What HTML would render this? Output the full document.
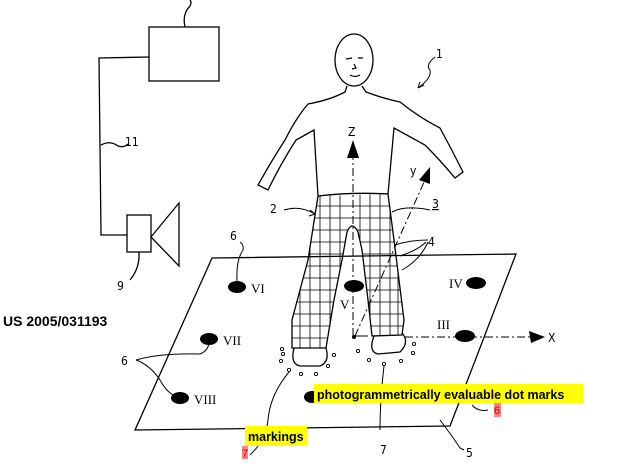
<!DOCTYPE html>
<html><head><meta charset="utf-8"><style>
html,body{margin:0;padding:0;background:#fff;}
svg{display:block;}
</style></head><body>
<svg width="625" height="464" viewBox="0 0 625 464" xmlns="http://www.w3.org/2000/svg" font-family="Liberation Sans, sans-serif">
<defs>
<clipPath id="pc"><path d="M318,196 L388,194 L394,240 L404,320 L402,335 L372,336 L368,300 L362,250 L358,232 Q352,220 347,232 L342,260 L334,300 L326,348 L292,348 L292,320 L308,260 Z"/></clipPath>
</defs>
<g fill="none" stroke="#000" stroke-width="1.3">
<rect x="149" y="27" width="70" height="54"/>
<path d="M185,27 Q182,14 190,6 Q192,2 190,0"/>
<path d="M149,57 L99,58 L101,235 L127,235"/>
<path d="M101,145 Q110,140 118,146 Q124,148 128,144"/>
<rect x="127" y="215" width="24" height="37"/>
<path d="M151,237 L179,203 L179,266 Z"/>
<path d="M139,252 Q140,268 130,280"/>
<path d="M212,258 L516,254 L450,426 L135,430 Z"/>
<ellipse cx="354" cy="60" rx="19" ry="26"/>
<path d="M346,59 L352,58 M358,58 L363,58 M354,64 L356,68 L352,69 M350,75 Q355,78 360,75" stroke-width="1.2"/>
<path d="M347,86 L345,92 Q330,100 308,104 Q296,118 285,140 Q272,160 258,185 L268,190 Q280,165 296,140 L314,130 L318,196"/>
<path d="M362,86 L366,92 Q385,99 400,102 Q420,118 440,128 Q452,150 463,172 L455,178 Q440,160 425,145 L394,128 L388,194"/>
<path d="M318,196 Q352,192 388,194"/>
<path d="M318,196 L308,260 L292,320 L292,348 L326,348 L334,300 L342,260 L347,232 Q352,220 358,232 L362,250 L368,300 L372,336 L402,335 L404,320 L394,240 L388,194"/>
<path d="M294,348 Q290,364 300,366 L320,366 Q330,362 326,348"/>
<path d="M374,336 Q368,352 378,354 L400,352 Q410,342 402,333"/>
</g>
<g clip-path="url(#pc)" stroke="#000" stroke-width="0.8">
<path d="M300,190V350 M310,190V350 M320,190V350 M330,190V350 M340,190V350 M360,190V350 M370,190V350 M380,190V350 M390,190V350 M398,190V350"/>
<path d="M290,206H410 M290,218H410 M290,230H410 M290,242H410 M290,254H410 M290,266H410 M290,278H410 M290,290H410 M290,302H410 M290,314H410 M290,326H410 M290,338H410"/>
</g>
<g stroke="#000" stroke-width="1" fill="none" stroke-dasharray="8,3,2,3">
<path d="M353,336 L353,155"/>
<path d="M355,336 L425,180"/>
<path d="M405,337 L535,337"/>
</g>
<path d="M353,336 L368,336" stroke="#000"/>
<circle cx="354" cy="337" r="2" fill="#000"/>
<path d="M353,140 L347,158 L359,158 Z" fill="#000"/>
<path d="M430,167 L419,180 L430,184 Z" fill="#000"/>
<path d="M545,337 L529,331 L531,343 Z" fill="#000"/>
<g fill="#000">
<ellipse cx="237" cy="287" rx="9" ry="6"/>
<ellipse cx="354" cy="286" rx="10" ry="6"/>
<ellipse cx="476" cy="283" rx="10" ry="6"/>
<ellipse cx="465" cy="336" rx="10" ry="6"/>
<ellipse cx="209" cy="339" rx="9" ry="6"/>
<ellipse cx="180" cy="398" rx="9" ry="6"/>
<ellipse cx="312" cy="397" rx="8" ry="6"/>
</g>
<g fill="none" stroke="#000" stroke-width="0.9">
<circle cx="282" cy="349" r="1.6"/><circle cx="281" cy="361" r="1.6"/><circle cx="289" cy="370" r="1.6"/><circle cx="301" cy="374" r="1.6"/><circle cx="316" cy="374" r="1.6"/><circle cx="328" cy="366" r="1.6"/><circle cx="334" cy="355" r="1.6"/><circle cx="283" cy="354" r="1.6"/>
<circle cx="358" cy="351" r="1.6"/><circle cx="369" cy="360" r="1.6"/><circle cx="384" cy="364" r="1.6"/><circle cx="401" cy="361" r="1.6"/><circle cx="413" cy="353" r="1.6"/><circle cx="414" cy="344" r="1.6"/>
</g>
<g fill="none" stroke="#000" stroke-width="1">
<path d="M237,281 Q236,260 243,250 Q244,245 240,242"/>
<path d="M136,360 Q160,353 200,354 Q210,350 209,339 M136,360 Q150,365 160,380 Q168,395 180,398"/>
<path d="M289,372 Q270,395 268,420 Q266,440 250,455"/>
<path d="M384,366 Q380,400 380,430"/>
<path d="M440,420 Q455,440 460,448 L464,450"/>
<path d="M472,405 Q478,412 488,410"/>
<path d="M284,210 Q300,205 315,214"/><path d="M315,214 L310,210 M315,214 L309,216"/>
<path d="M392,212 Q405,205 430,210"/>
<path d="M395,245 Q410,240 428,240 M400,256 Q418,250 426,242 M402,270 Q420,260 428,242"/>
<path d="M435,57 Q425,65 430,70 Q432,78 418,88"/><path d="M418,88 L420,82 M418,88 L424,85"/>
</g>
<g font-size="12" fill="#000" font-family="DejaVu Sans Condensed, Liberation Sans Narrow, sans-serif">
<text x="125" y="146">11</text>
<text x="117" y="290">9</text>
<text x="230" y="240">6</text>
<text x="121" y="365">6</text>
<text x="270" y="213">2</text>
<text x="432" y="208" text-decoration="underline">3</text>
<text x="428" y="246">4</text>
<text x="436" y="58">1</text>
<text x="380" y="454">7</text>
<text x="466" y="457">5</text>
<text x="348" y="136">Z</text>
<text x="410" y="175">y</text>
<text x="548" y="342">X</text>
</g>
<g font-size="13" fill="#000" font-family="Liberation Serif, serif">
<text x="251" y="293">VI</text>
<text x="340" y="309">V</text>
<text x="449" y="288">IV</text>
<text x="437" y="329">III</text>
<text x="223" y="345">VII</text>
<text x="194" y="404">VIII</text>
</g>
<text x="3" y="326" font-size="14" font-weight="bold" font-family="Liberation Sans, sans-serif">US 2005/031193</text>
<rect x="314" y="384" width="269" height="19" fill="#ffff00"/>
<text x="317" y="399" font-size="12.5" font-weight="bold" font-family="Liberation Sans, sans-serif">photogrammetrically evaluable dot marks</text>
<rect x="494" y="403" width="7" height="14" fill="#ff8080"/>
<text x="494" y="414" font-size="11" fill="#c00">6</text>
<rect x="245" y="426" width="62" height="20" fill="#ffff00"/>
<text x="248" y="441" font-size="12.5" font-weight="bold" font-family="Liberation Sans, sans-serif">markings</text>
<rect x="242" y="446" width="6" height="13" fill="#ff8080"/>
<text x="242" y="457" font-size="11" fill="#c00">7</text>
</svg>
</body></html>
